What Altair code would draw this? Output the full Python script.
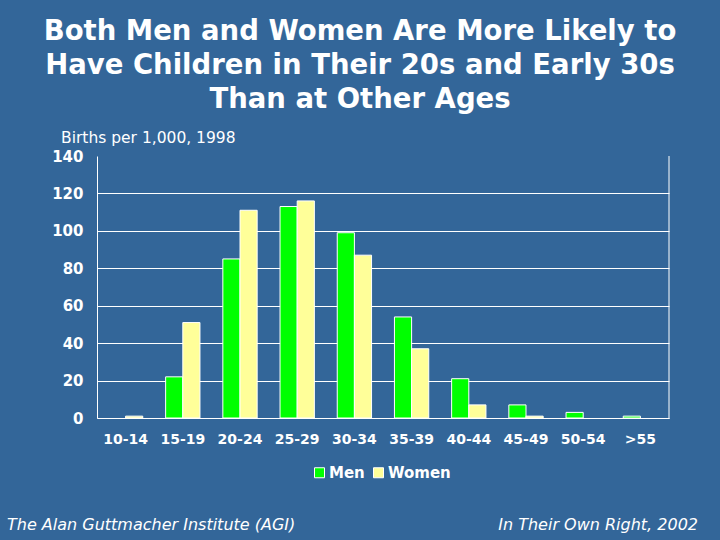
import altair as alt
import pandas as pd

# Births per 1,000 by age group of parent, 1998
age_groups = ["10-14", "15-19", "20-24", "25-29", "30-34",
              "35-39", "40-44", "45-49", "50-54", ">55"]
men_rates = [0, 22, 85, 113, 99, 54, 21, 7, 3, 1]
women_rates = [1, 51, 111, 116, 87, 37, 7, 1, 0, 0]

series = ["Men", "Women"]
series_colors = ["#00FF00", "#FFFF99"]
y_ticks = [0, 20, 40, 60, 80, 100, 120, 140]

title_lines = [
    "Both Men and Women Are More Likely to",
    "Have Children in Their 20s and Early 30s",
    "Than at Other Ages",
]
unit_label = "Births per 1,000, 1998"
source_left = "The Alan Guttmacher Institute (AGI)"
source_right = "In Their Own Right, 2002"

rows = []
for g, m, w in zip(age_groups, men_rates, women_rates):
    rows.append({"age": g, "sex": "Men", "rate": m})
    rows.append({"age": g, "sex": "Women", "rate": w})
df = pd.DataFrame(rows)

BG = "#336699"
FONT = "DejaVu Sans"
W, H = 572, 262

bars = alt.Chart(df).transform_filter("datum.rate > 0").mark_bar(
    stroke="white", strokeWidth=1
).encode(
    x=alt.X(
        "age:N",
        sort=age_groups,
        scale=alt.Scale(domain=age_groups, paddingInner=0.4, paddingOuter=0.2),
        axis=alt.Axis(
            title=None, labelAngle=0, ticks=False, labelPadding=14,
            labelFontSize=14, labelFontWeight="bold", labelColor="white",
            domainColor="white", domainWidth=1, grid=False,
        ),
    ),
    xOffset=alt.XOffset("sex:N", sort=series,
                        scale=alt.Scale(domain=series, paddingInner=0, paddingOuter=0)),
    y=alt.Y(
        "rate:Q",
        scale=alt.Scale(domain=[0, 140], nice=False),
        axis=alt.Axis(
            title=None, values=y_ticks, ticks=False, labelPadding=14,
            labelFontSize=15, labelFontWeight="bold", labelColor="white",
            domainColor="white", domainWidth=1,
            grid=True, gridColor="white", gridWidth=1,
            gridOpacity={"condition": {"test": "datum.value === 140", "value": 0},
                         "value": 1},
        ),
    ),
    color=alt.Color(
        "sex:N",
        scale=alt.Scale(domain=series, range=series_colors),
        legend=alt.Legend(
            title=None, orient="none", direction="horizontal",
            legendX=215, legendY=309, padding=0,
            symbolType="square", symbolSize=100,
            symbolStrokeColor="white", symbolStrokeWidth=1,
            labelColor="white", labelFont=FONT, labelFontSize=15,
            labelFontWeight="bold", labelOffset=2, columnPadding=6,
        ),
    ),
)

one = pd.DataFrame({"n": [0]})

# right-hand frame line of the plot area
frame_right = alt.Chart(one).mark_rule(color="white", strokeWidth=1).encode(
    x=alt.value(W), y=alt.value(0), y2=alt.value(H)
)


def note(lines, x, y, **style):
    return alt.Chart(one).mark_text(text=lines, font=FONT, color="white", **style).encode(
        x=alt.value(x), y=alt.value(y)
    )


title = note(title_lines, 263, -116.5, fontSize=27.5, fontWeight="bold",
             align="center", baseline="alphabetic", lineHeight=34)
unit = note(unit_label, -36, -13, fontSize=15.5, align="left", baseline="alphabetic")
src_l = note(source_left, -90, 374, fontSize=16, fontStyle="italic",
             align="left", baseline="alphabetic")
src_r = note(source_right, 601, 374, fontSize=16, fontStyle="italic",
             align="right", baseline="alphabetic")

chart = alt.layer(bars, frame_right, title, unit, src_l, src_r).properties(
    width=W, height=H,
    autosize=alt.AutoSizeParams(type="none"),
    padding={"left": 97, "top": 156, "right": 51, "bottom": 122},
    background=BG,
).configure_view(stroke=None).configure_axis(labelFont=FONT)

chart.save("out.html", embed_options={"renderer": "svg", "actions": False})
